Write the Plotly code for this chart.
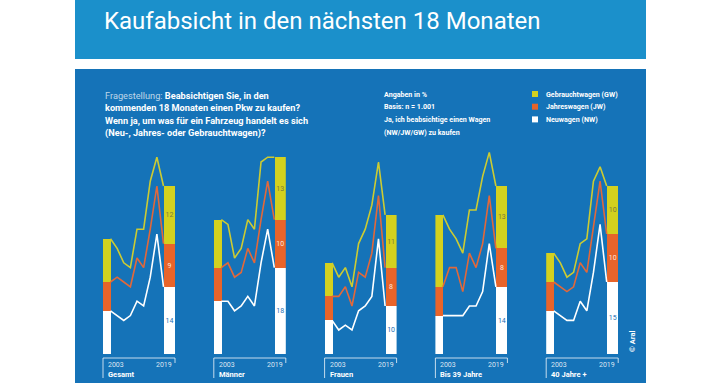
import plotly.graph_objects as go
import numpy as np

# ---------------- data (percent, shares per vehicle type) ----------------
years = [2003, 2005, 2007, 2009, 2011, 2013, 2015, 2017, 2019]
group_names = ["Gesamt", "Männer", "Frauen", "Bis 39 Jahre", "40 Jahre +"]

nw_gesamt = [9, 8, 7, 8, 11, 10, 16, 25, 14]
jw_gesamt = [6, 8, 8, 6, 9, 8, 10, 10, 9]
gw_gesamt = [9, 6, 4, 4, 6, 8, 10, 6, 12]

nw_maenner = [11, 11, 9, 10, 12, 10, 19, 26, 18]
jw_maenner = [7, 8, 7, 7, 10, 9, 9, 10, 10]
gw_maenner = [10, 8, 4, 5, 6, 7, 12, 5, 13]

nw_frauen = [7, 5, 6, 5, 9, 10, 12, 24, 10]
jw_frauen = [5, 7, 8, 5, 8, 6, 9, 9, 8]
gw_frauen = [7, 4, 4, 4, 6, 10, 10, 7, 11]

nw_bis39 = [8, 8, 8, 8, 10, 10, 13, 23, 14]
jw_bis39 = [6, 10, 10, 5, 11, 8, 10, 10, 8]
gw_bis39 = [15, 8, 6, 8, 9, 12, 14, 9, 13]

nw_ab40 = [9, 8, 7, 7, 11, 9, 17, 27, 15]
jw_ab40 = [6, 6, 6, 7, 8, 8, 10, 9, 10]
gw_ab40 = [6, 5, 3, 3, 4, 7, 9, 3, 10]

series = [
    (nw_gesamt, jw_gesamt, gw_gesamt),
    (nw_maenner, jw_maenner, gw_maenner),
    (nw_frauen, jw_frauen, gw_frauen),
    (nw_bis39, jw_bis39, gw_bis39),
    (nw_ab40, jw_ab40, gw_ab40),
]

legend_labels = ["Gebrauchtwagen (GW)", "Jahreswagen (JW)", "Neuwagen (NW)"]

# ---------------- styling ----------------
W, H = 720, 383
BANNER = "#1b90cb"
PANEL = "#1573b8"
YELLOW = "#d3d11f"
ORANGE = "#e8642a"
WHITE = "#ffffff"
YELLOW_LINE = "#cccb32"
ORANGE_LINE = "#e2683a"
FONT = "Roboto"


def px(x):
    return x / W


def py(y):
    return 1 - y / H


PANEL_LEFT0 = 103
PANEL_STEP = 110.8
BAR1_PX = 7.5
LINE_PX = 53
BAR2_PX = 11.5
PANEL_W = BAR1_PX + LINE_PX + BAR2_PX
px_per_year = LINE_PX / (years[-1] - years[0])
w1 = BAR1_PX / px_per_year
w2 = BAR2_PX / px_per_year

Y_BOTTOM_PX = 354
Y_TOP_PX = 140
PX_PER_UNIT = 4.8

fig = go.Figure()
shapes = []
annotations = []

for k, (name, (nw, jw, gw)) in enumerate(zip(group_names, series)):
    suffix = "" if k == 0 else str(k + 1)
    xa = "x" + suffix
    left = PANEL_LEFT0 + k * PANEL_STEP
    right = left + PANEL_W

    nw_a = np.array(nw)
    jw_a = np.array(jw)
    gw_a = np.array(gw)
    cum_nw = nw_a
    cum_jw = nw_a + jw_a
    cum_gw = cum_jw + gw_a

    for vals, col, tcol in [(nw, WHITE, "#1a6fb5"), (jw, ORANGE, "#fde6dc"), (gw, YELLOW, "#7d7b3a")]:
        fig.add_trace(go.Bar(
            x=[years[0], years[-1]], y=[vals[0], vals[-1]],
            width=[w1, w2], offset=[-w1, 0],
            marker=dict(color=col, line=dict(width=0)),
            text=["", str(vals[-1])], textposition="inside",
            insidetextanchor="middle", textangle=0,
            textfont=dict(size=7, color=tcol, family=FONT),
            xaxis=xa, yaxis="y", showlegend=False, hoverinfo="skip",
        ))

    for cum, col in [(cum_gw, YELLOW_LINE), (cum_jw, ORANGE_LINE), (cum_nw, WHITE)]:
        fig.add_trace(go.Scatter(
            x=years, y=cum, mode="lines",
            line=dict(color=col, width=1.6),
            xaxis=xa, yaxis="y", showlegend=False, hoverinfo="skip",
        ))

    fig.layout["xaxis" + suffix] = dict(
        domain=[px(left), px(right)],
        range=[years[0] - w1, years[-1] + w2],
        visible=False, anchor="y", fixedrange=True,
    )

    # bracket below the panel
    line_style = dict(color="rgba(255,255,255,0.75)", width=1)
    shapes.append(dict(type="line", xref="paper", yref="paper",
                       x0=px(left), x1=px(right), y0=py(358), y1=py(358), line=line_style))
    shapes.append(dict(type="line", xref="paper", yref="paper",
                       x0=px(left), x1=px(left), y0=py(358), y1=py(378), line=line_style))
    shapes.append(dict(type="line", xref="paper", yref="paper",
                       x0=px(right), x1=px(right), y0=py(358), y1=py(363), line=line_style))

    annotations.append(dict(x=px(left + 3), y=py(364.5), xref="paper", yref="paper",
                            text=str(years[0]), showarrow=False, xanchor="left", yanchor="middle",
                            font=dict(size=7, color="rgba(255,255,255,0.85)", family=FONT)))
    annotations.append(dict(x=px(right - 1), y=py(364.5), xref="paper", yref="paper",
                            text=str(years[-1]), showarrow=False, xanchor="right", yanchor="middle",
                            font=dict(size=7, color="rgba(255,255,255,0.85)", family=FONT)))
    annotations.append(dict(x=px(left + 3), y=py(374.5), xref="paper", yref="paper",
                            text="<b>" + name + "</b>", showarrow=False, xanchor="left", yanchor="middle",
                            font=dict(size=7.5, color="white", family=FONT)))

# background blocks
shapes.insert(0, dict(type="rect", xref="paper", yref="paper", layer="below",
                      x0=px(75), x1=px(646), y0=py(59), y1=py(0),
                      fillcolor=BANNER, line=dict(width=0)))
shapes.insert(1, dict(type="rect", xref="paper", yref="paper", layer="below",
                      x0=px(75), x1=px(646), y0=py(383), y1=py(69),
                      fillcolor=PANEL, line=dict(width=0)))

# title
annotations.append(dict(x=px(102), y=py(21), xref="paper", yref="paper",
                        text="Kaufabsicht in den nächsten 18 Monaten", showarrow=False,
                        xanchor="left", yanchor="middle",
                        font=dict(size=24, color="white", family=FONT)))

# question text
q_lines = [
    "<span style='color:rgba(255,255,255,0.72)'>Fragestellung:</span> <b>Beabsichtigen Sie, in den</b>",
    "<b>kommenden 18 Monaten einen Pkw zu kaufen?</b>",
    "<b>Wenn ja, um was für ein Fahrzeug handelt es sich</b>",
    "<b>(Neu-, Jahres- oder Gebrauchtwagen)?</b>",
]
for i, t in enumerate(q_lines):
    annotations.append(dict(x=px(103), y=py(95 + 12.5 * i), xref="paper", yref="paper",
                            text=t, showarrow=False, xanchor="left", yanchor="middle",
                            font=dict(size=9.2, color="white", family=FONT)))

info_lines = ["Angaben in %", "Basis: n = 1.001",
              "Ja, ich beabsichtige einen Wagen", "(NW/JW/GW) zu kaufen"]
for i, t in enumerate(info_lines):
    annotations.append(dict(x=px(382), y=py(94 + 12.7 * i), xref="paper", yref="paper",
                            text="<b>" + t + "</b>", showarrow=False, xanchor="left", yanchor="middle",
                            font=dict(size=7.1, color="white", family=FONT)))

for i, (t, c) in enumerate(zip(legend_labels, [YELLOW, ORANGE, WHITE])):
    yc = 94 + 12.7 * i
    shapes.append(dict(type="rect", xref="paper", yref="paper",
                       x0=px(532), x1=px(538), y0=py(yc + 3), y1=py(yc - 3),
                       fillcolor=c, line=dict(width=0)))
    annotations.append(dict(x=px(544), y=py(yc), xref="paper", yref="paper",
                            text="<b>" + t + "</b>", showarrow=False, xanchor="left", yanchor="middle",
                            font=dict(size=7.1, color="white", family=FONT)))

annotations.append(dict(x=px(632), y=py(342), xref="paper", yref="paper",
                        text="<b>© Aral</b>", showarrow=False, textangle=-90,
                        xanchor="center", yanchor="middle",
                        font=dict(size=7.5, color="white", family=FONT)))

fig.update_layout(
    width=W, height=H,
    margin=dict(l=0, r=0, t=0, b=0),
    paper_bgcolor="white", plot_bgcolor="rgba(0,0,0,0)",
    barmode="stack", bargap=0, showlegend=False,
    uniformtext=dict(minsize=7, mode="show"),
    yaxis=dict(domain=[py(Y_BOTTOM_PX), py(Y_TOP_PX)],
               range=[0, (Y_BOTTOM_PX - Y_TOP_PX) / PX_PER_UNIT],
               visible=False, fixedrange=True),
    shapes=shapes, annotations=annotations,
)

fig.write_html(
    "out.html",
    config={"displayModeBar": False},
    post_script="document.body.style.margin='0';document.body.style.padding='0';document.body.style.overflow='hidden';",
)
